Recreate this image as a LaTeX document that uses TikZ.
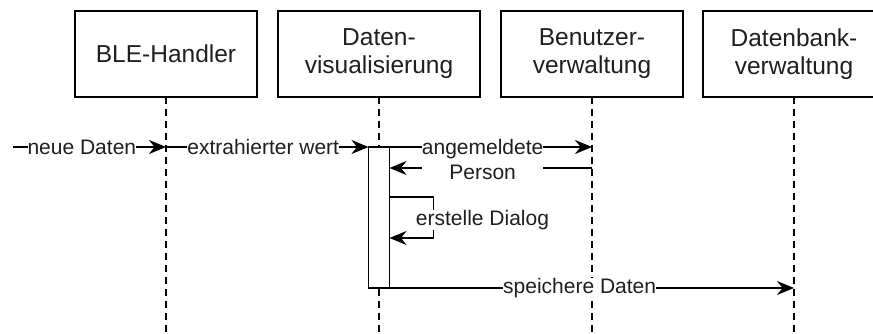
\documentclass[tikz,border=0pt]{standalone}
\usepackage{fontspec}
\setmainfont{Liberation Sans}
\usetikzlibrary{arrows.meta}
\begin{document}
\begin{tikzpicture}[x=1pt,y=-1pt,
  lane/.style={draw, line width=1.9pt, minimum height=86pt, align=center,
    font=\fontsize{24.5}{28}\selectfont, inner sep=0pt, outer sep=0pt, text=black!88},
  life/.style={line width=1.8pt, dash pattern=on 7pt off 5pt},
  msg/.style={line width=1.9pt, -{Stealth[length=17pt,width=14pt,inset=5.5pt]}},
  lbl/.style={font=\fontsize{21}{25}\selectfont, fill=white, inner sep=0pt,
    align=center, text=black!88},
  actbox/.style={draw, fill=white, line width=1.9pt, minimum width=21pt,
    minimum height=141pt, inner sep=0pt, outer sep=0pt}]
\useasboundingbox (0,0) rectangle (873,334);

% participants
\node[lane, minimum width=182pt] (ble) at (166,54) {BLE-Handler};
\node[lane, minimum width=202pt] (vis) at (379,54) {Daten-\\visualisierung};
\node[lane, minimum width=182pt] (usr) at (592,54) {Benutzer-\\verwaltung};
\node[lane, minimum width=182pt] (db)  at (794,54) {Datenbank-\\verwaltung};

% lifelines
\coordinate (bleEnd) at (166,334);
\coordinate (visEnd) at (379,334);
\coordinate (usrEnd) at (592,334);
\coordinate (dbEnd)  at (794,334);
\draw[life] (ble.south) -- (bleEnd);
\draw[life] (vis.south) -- (visEnd);
\draw[life] (usr.south) -- (usrEnd);
\draw[life] (db.south)  -- (dbEnd);

% activation bar
\node[actbox] (act) at (379,217.5) {};

% messages
\coordinate (src) at (13,147);
\draw[msg] (src) -- node[lbl, pos=0.45] {neue Daten} (src -| ble.south);
\draw[msg] (src -| ble.south) -- node[lbl, pos=0.48] {extrahierter wert} (act.north west);
\draw[msg] (act.north east) -- (act.north east -| usr.south);
\draw[msg] ([yshift=-21pt]act.north east -| usr.south) --
  node[lbl, pos=0.54, yshift=8.5pt] {angemeldete\\Person} ([yshift=-21pt]act.north east);
\draw[msg] ([yshift=-50pt]act.north east) -- ++(44,0) --
  node[lbl, midway, xshift=49pt, yshift=-2.5pt] {erstelle Dialog} ++(0,41) --
  ([yshift=-91pt]act.north east);
\draw[msg] (act.south east) -- node[lbl, pos=0.47] {speichere Daten} (act.south east -| db.south);
\end{tikzpicture}
\end{document}
